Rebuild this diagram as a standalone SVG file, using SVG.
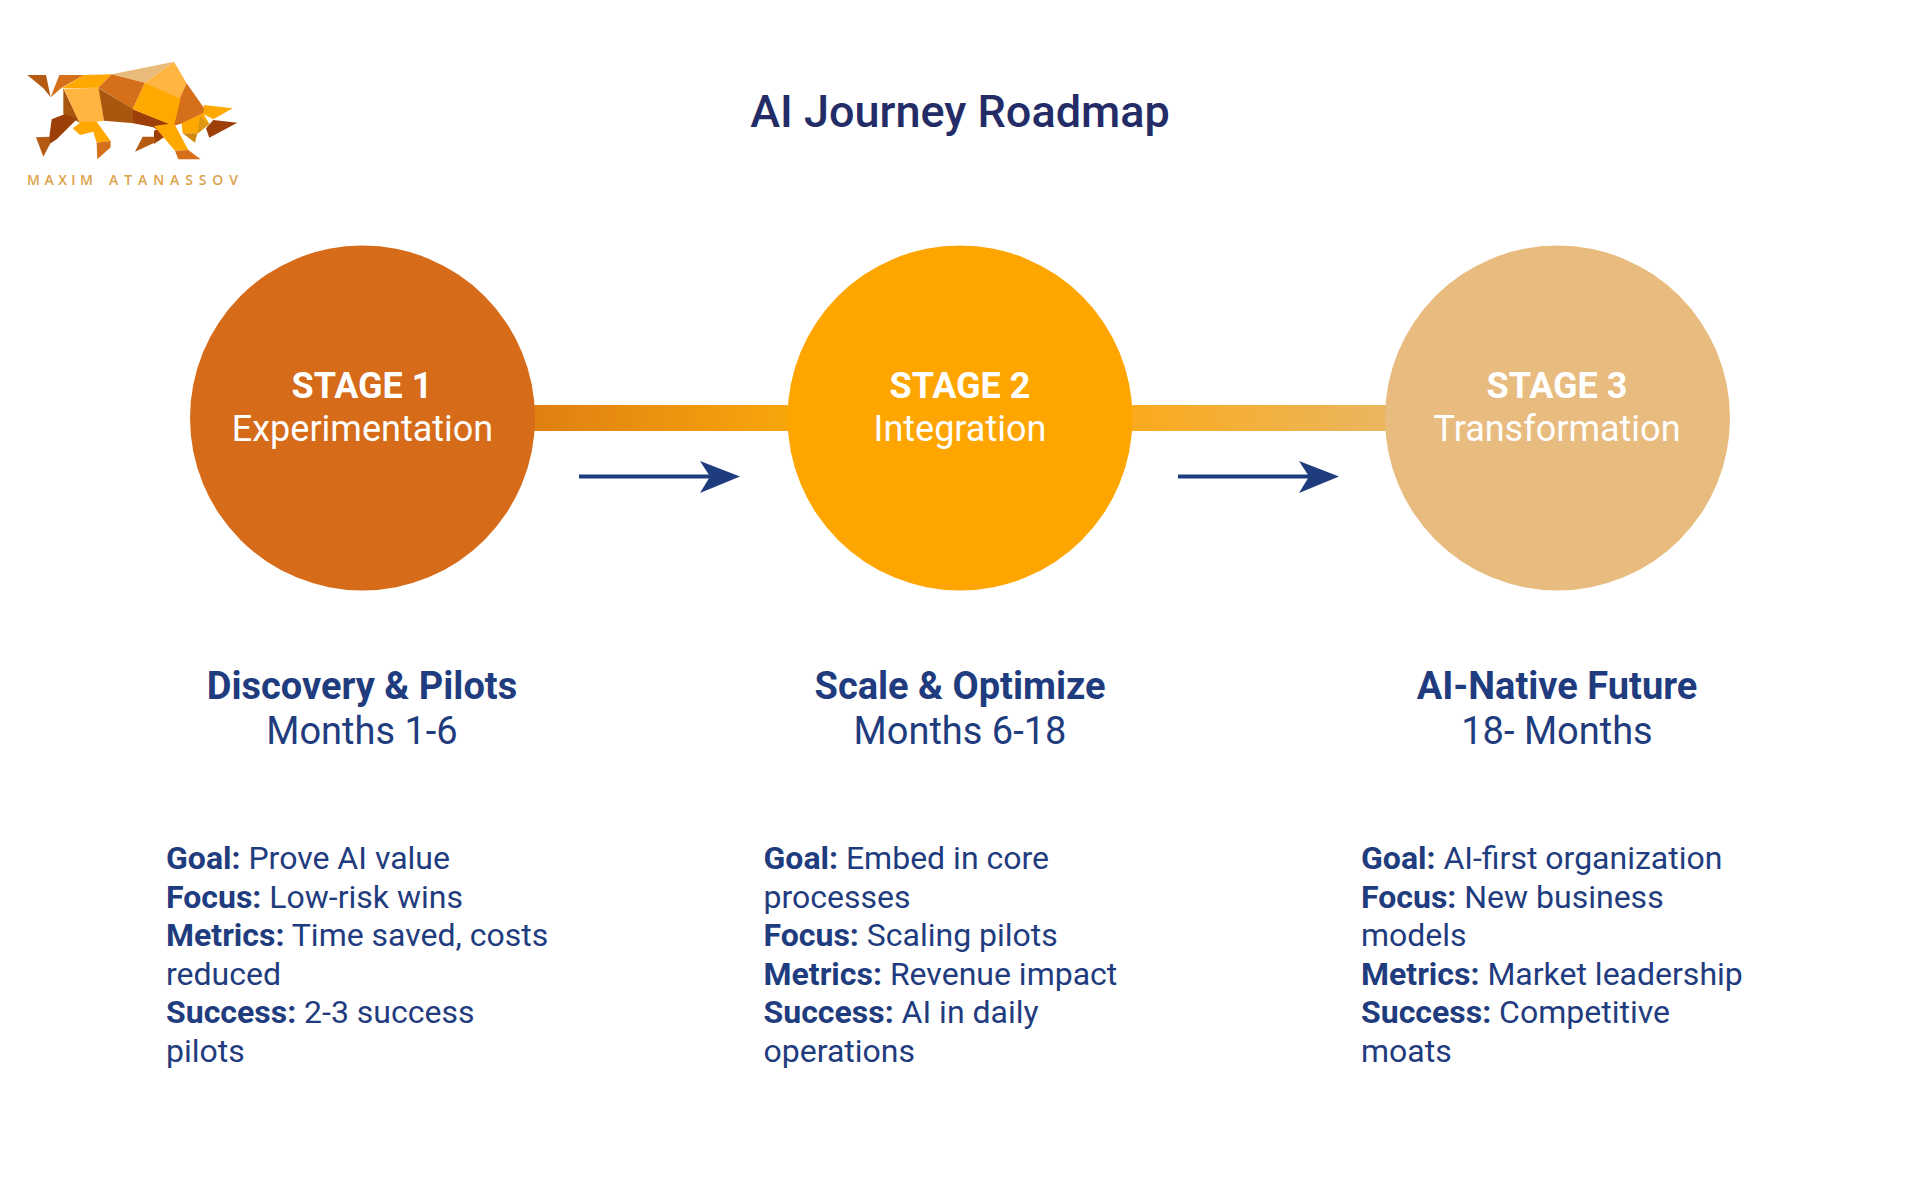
<svg xmlns="http://www.w3.org/2000/svg" width="1920" height="1187" viewBox="0 0 1920 1187">
<style>
text{font-family:Roboto,"Noto Sans",sans-serif}
.title{font-size:45px;font-weight:500;fill:#232c66;text-anchor:middle}
.s{font-size:36px;font-weight:700;fill:#fff;text-anchor:middle}
.n{font-size:36px;font-weight:400;fill:#fff;text-anchor:middle}
.h{font-size:38px;font-weight:700;fill:#1f3c7e;text-anchor:middle}
.m{font-size:38px;font-weight:400;fill:#1f3c7e;text-anchor:middle}
.b{font-size:32px;font-weight:400;fill:#1f3c7e}
.b tspan{font-weight:700}
.ar{stroke:#1f3c7e;stroke-width:4;fill:none}
.hd{fill:#1f3c7e}
.lg{font-size:14px;fill:#dca24a;font-weight:600;font-family:"Open Sans",sans-serif}
</style>
<defs>
<linearGradient id="g1" x1="0" x2="1" y1="0" y2="0"><stop offset="0" stop-color="#e07f12"/><stop offset="1" stop-color="#f9a60c"/></linearGradient>
<linearGradient id="g2" x1="0" x2="1" y1="0" y2="0"><stop offset="0" stop-color="#fbaa1c"/><stop offset="1" stop-color="#eab65f"/></linearGradient>
</defs>
<rect width="1920" height="1187" fill="#fff"/>
<g id="logo">
<g transform="translate(0 40) scale(.3333)">
<polygon points="82,105 138,105 152,172 130,145" fill="#b45a12"/>
<polygon points="152,172 178,105 252,105 185,143" fill="#d66f1a"/>
<polygon points="185,145 252,105 335,103 295,143" fill="#ffa800"/>
<polygon points="190,145 240,250 222,238 190,222" fill="#a9560f"/>
<polygon points="155,238 195,222 232,236 170,298 145,314 148,290" fill="#9c3f08"/>
<polygon points="192,146 298,143 312,242 240,252" fill="#ffb53f"/>
<polygon points="108,292 148,290 150,312 130,350" fill="#b45a12"/>
<polygon points="218,265 245,245 290,245 332,303 290,308 280,275 240,285" fill="#ffa800"/>
<polygon points="290,308 332,303 332,322 292,358" fill="#d66f1a"/>
<polygon points="335,103 522,65 435,128" fill="#e8bb7b"/>
<polygon points="435,128 522,65 560,130 540,178" fill="#ffb53f"/>
<polygon points="295,143 335,103 435,128 398,208" fill="#d66f1a"/>
<polygon points="296,145 400,208 402,250 312,242" fill="#a9560f"/>
<polygon points="398,208 525,258 500,288 460,262 400,250" fill="#9c3f08"/>
<polygon points="462,272 480,265 497,288 462,312" fill="#9c3f08"/>
<polygon points="428,290 462,290 470,305 405,335" fill="#b45a12"/>
<polygon points="560,130 620,215 548,250 520,258 540,175" fill="#d66f1a"/>
<polygon points="435,128 542,176 522,258 398,208" fill="#ffa800"/>
<polygon points="462,258 522,250 565,330 525,332" fill="#ffa800"/>
<polygon points="525,332 565,330 602,358 535,358" fill="#d66f1a"/>
<polygon points="612,195 698,205 640,238 610,222" fill="#ffa800"/>
<polygon points="640,240 712,248 628,293 618,265" fill="#9c3f08"/>
<polygon points="610,220 628,252 592,280 548,280 545,250" fill="#ffa800"/>
<polygon points="548,280 592,280 585,308" fill="#cf8a12"/>
<polygon points="600,228 628,252 592,282" fill="#df9612"/>
</g>
<text class="lg" x="27" y="185" textLength="66" lengthAdjust="spacing">MAXIM</text>
<text class="lg" x="109" y="185" textLength="129" lengthAdjust="spacing">ATANASSOV</text>
</g>
<text class="title" x="960" y="127">AI Journey Roadmap</text>
<g id="connectors">
<rect x="534" y="405" width="255" height="26" fill="url(#g1)"/>
<rect x="1131" y="405" width="255" height="26" fill="url(#g2)"/>
<path class="ar" d="M579 476.500H715"/>
<polygon class="hd" points="700,461 740,476.500 700,493 710,476.500"/>
<path class="ar" d="M1178 476.500H1314"/>
<polygon class="hd" points="1299,461 1339,476.500 1299,493 1309,476.500"/>
</g>
<g id="stage1">
<circle cx="362.500" cy="418" r="172.500" fill="#d66b19"/>
<text class="s" x="362" y="398">STAGE 1</text>
<text class="n" x="362.500" y="441">Experimentation</text>
<text class="h" x="362" y="699">Discovery &amp; Pilots</text>
<text class="m" x="362" y="744">Months 1-6</text>
<text class="b" x="166" y="869"><tspan>Goal:</tspan> Prove AI value</text>
<text class="b" x="166" y="908"><tspan>Focus:</tspan> Low-risk wins</text>
<text class="b" x="166" y="946"><tspan>Metrics:</tspan> Time saved, costs</text>
<text class="b" x="166" y="985">reduced</text>
<text class="b" x="166" y="1023"><tspan>Success:</tspan> 2-3 success</text>
<text class="b" x="166" y="1062">pilots</text>
</g>
<g id="stage2">
<circle cx="960" cy="418" r="172.500" fill="#ffa500"/>
<text class="s" x="960" y="398">STAGE 2</text>
<text class="n" x="960" y="441">Integration</text>
<text class="h" x="960" y="699">Scale &amp; Optimize</text>
<text class="m" x="960" y="744">Months 6-18</text>
<text class="b" x="763.500" y="869"><tspan>Goal:</tspan> Embed in core</text>
<text class="b" x="763.500" y="908">processes</text>
<text class="b" x="763.500" y="946"><tspan>Focus:</tspan> Scaling pilots</text>
<text class="b" x="763.500" y="985"><tspan>Metrics:</tspan> Revenue impact</text>
<text class="b" x="763.500" y="1023"><tspan>Success:</tspan> AI in daily</text>
<text class="b" x="763.500" y="1062">operations</text>
</g>
<g id="stage3">
<circle cx="1557.500" cy="418" r="172.500" fill="#e8bb7f"/>
<text class="s" x="1557" y="398">STAGE 3</text>
<text class="n" x="1557" y="441">Transformation</text>
<text class="h" x="1557" y="699">AI-Native Future</text>
<text class="m" x="1557" y="744">18- Months</text>
<text class="b" x="1361" y="869"><tspan>Goal:</tspan> AI-first organization</text>
<text class="b" x="1361" y="908"><tspan>Focus:</tspan> New business</text>
<text class="b" x="1361" y="946">models</text>
<text class="b" x="1361" y="985"><tspan>Metrics:</tspan> Market leadership</text>
<text class="b" x="1361" y="1023"><tspan>Success:</tspan> Competitive</text>
<text class="b" x="1361" y="1062">moats</text>
</g>
</svg>
